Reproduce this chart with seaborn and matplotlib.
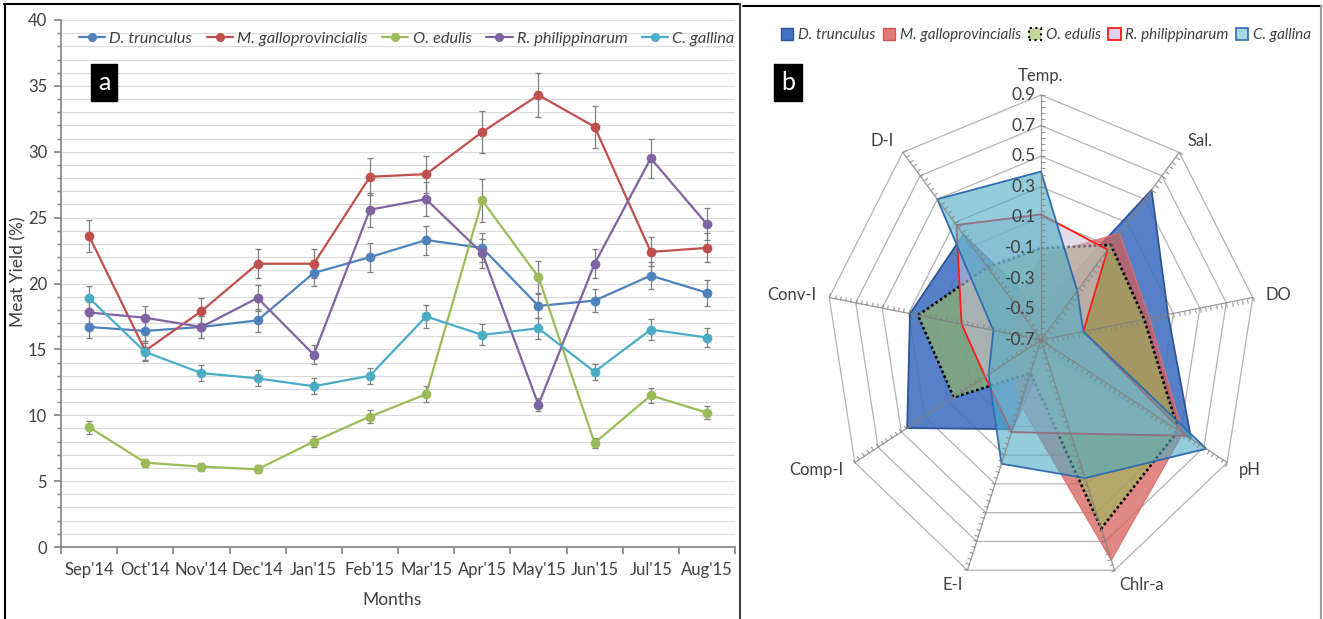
# Import libraries
import numpy as np
import pandas as pd
import seaborn as sns
import matplotlib.pyplot as plt
from matplotlib.lines import Line2D
from matplotlib.patches import Patch
from matplotlib.markers import MarkerStyle
from matplotlib.path import Path
from matplotlib.transforms import Affine2D, offset_copy
from matplotlib.colors import to_rgba

# ----------- Data -----------

months = ["Sep'14", "Oct'14", "Nov'14", "Dec'14", "Jan'15", "Feb'15",
          "Mar'15", "Apr'15", "May'15", "Jun'15", "Jul'15", "Aug'15"]
species = ["D. trunculus", "M. galloprovincialis", "O. edulis",
           "R. philippinarum", "C. gallina"]

# meat yield (%) per month
yield_d_trunculus = [16.7, 16.4, 16.7, 17.2, 20.8, 22.0, 23.3, 22.7, 18.3, 18.7, 20.6, 19.3]
yield_m_gallo = [23.6, 14.9, 17.9, 21.5, 21.5, 28.1, 28.3, 31.5, 34.3, 31.9, 22.4, 22.7]
yield_o_edulis = [9.1, 6.4, 6.1, 5.9, 8.0, 9.9, 11.6, 26.3, 20.5, 7.9, 11.5, 10.2]
yield_r_phil = [17.8, 17.4, 16.7, 18.9, 14.6, 25.6, 26.4, 22.3, 10.8, 21.5, 29.5, 24.5]
yield_c_gallina = [18.9, 14.8, 13.2, 12.8, 12.2, 13.0, 17.5, 16.1, 16.6, 13.3, 16.5, 15.9]

# error bars (+/-)
err_d_trunculus = [0.8, 0.8, 0.8, 0.9, 1.0, 1.1, 1.1, 1.1, 0.9, 0.9, 1.0, 1.0]
err_m_gallo = [1.2, 0.7, 1.0, 1.1, 1.1, 1.4, 1.4, 1.6, 1.7, 1.6, 1.1, 1.1]
err_o_edulis = [0.5, 0.3, 0.3, 0.3, 0.4, 0.5, 0.6, 1.6, 1.2, 0.4, 0.6, 0.5]
err_r_phil = [0.9, 0.9, 0.8, 1.0, 0.7, 1.3, 1.3, 1.1, 0.5, 1.1, 1.5, 1.2]
err_c_gallina = [0.9, 0.7, 0.6, 0.6, 0.6, 0.6, 0.9, 0.8, 0.8, 0.6, 0.8, 0.7]

# radar (correlation) values
radar_axes = ["Temp.", "Sal.", "DO", "pH", "Chlr-a", "E-I", "Comp-I", "Conv-I", "D-I"]
radar_d_trunculus = [-0.5, 0.58, 0.26, 0.59, -0.6, -0.08, 0.45, 0.29, 0.2]
radar_m_gallo = [-0.15, 0.21, 0.12, 0.52, 0.83, -0.25, -0.45, -0.45, -0.4]
radar_o_edulis = [-0.1, 0.11, 0.08, 0.48, 0.61, -0.47, 0.05, 0.23, -0.08]
radar_r_phil = [0.12, 0.07, -0.38, 0.55, -0.05, -0.06, -0.22, -0.1, 0.28]
radar_c_gallina = [0.4, -0.28, -0.38, 0.72, 0.26, 0.16, -0.25, -0.34, 0.5]
radar_ticks = [0.9, 0.7, 0.5, 0.3, 0.1, -0.1, -0.3, -0.5, -0.7]

yields = [yield_d_trunculus, yield_m_gallo, yield_o_edulis, yield_r_phil, yield_c_gallina]
errors = [err_d_trunculus, err_m_gallo, err_o_edulis, err_r_phil, err_c_gallina]
radars = [radar_d_trunculus, radar_m_gallo, radar_o_edulis, radar_r_phil, radar_c_gallina]

# ----------- Figure -----------

sns.set_theme(style="white")
plt.rcParams['font.family'] = ['Lato', 'DejaVu Sans']

W, H = 1323, 619
fig = plt.figure(figsize=(W / 100, H / 100), dpi=100)


def fx(x):
    return x / W


def fy(y):
    return 1 - y / H


line_colors = ["#4F81BD", "#C0504D", "#9BBB59", "#8064A2", "#4BACC6"]
text_color = "#404040"

# ----------- Panel a: meat yield -----------

ax1 = fig.add_axes([fx(61), fy(547), 674 / W, 527 / H])

df = pd.DataFrame({
    "pos": list(range(len(months))) * len(species),
    "species": np.repeat(species, len(months)),
    "value": np.concatenate(yields),
    "err": np.concatenate(errors),
})

for name in species:
    sub = df[df["species"] == name]
    ax1.errorbar(sub["pos"], sub["value"], yerr=sub["err"], fmt="none",
                 ecolor="#7F7F7F", elinewidth=0.9, capsize=2.5, capthick=0.9, zorder=2)

sns.lineplot(data=df, x="pos", y="value", hue="species", hue_order=species,
             palette=line_colors, marker="o", markersize=7, markeredgewidth=0,
             linewidth=1.6, errorbar=None, legend=False, ax=ax1, zorder=3)

ax1.set_xlim(-0.5, len(months) - 0.5)
ax1.set_ylim(0, 40)
ax1.set_yticks(range(0, 41, 5))
ax1.set_yticks(range(0, 41), minor=True)
ax1.yaxis.grid(True, which="both", color="#D9D9D9", lw=0.8)
ax1.set_axisbelow(True)
ax1.set_xticks(np.arange(-0.5, len(months), 1))
ax1.set_xticklabels([])
ax1.set_xticks(range(len(months)), minor=True)
ax1.set_xticklabels(months, minor=True)
ax1.tick_params(axis="x", which="major", bottom=True, length=5, color="#868686")
ax1.tick_params(axis="x", which="minor", bottom=True, length=0, labelsize=12,
                pad=11, labelcolor=text_color)
ax1.tick_params(axis="y", which="major", left=True, length=5, color="#868686",
                labelsize=12, pad=5, labelcolor=text_color)
ax1.tick_params(axis="y", which="minor", left=True, length=3, color="#868686")
ax1.set_xlabel("")
ax1.set_ylabel("")
for s in ["top", "right"]:
    ax1.spines[s].set_visible(False)
for s in ["left", "bottom"]:
    ax1.spines[s].set_color("#868686")

fig.text(fx(392), fy(600), "Months", ha="center", va="center", fontsize=12.5, color=text_color)
fig.text(fx(18), fy(272), "Meat Yield (%)", rotation=90, ha="center", va="center",
         fontsize=12.5, color=text_color)

handles_a = [Line2D([], [], color=c, marker="o", lw=1.6, markersize=6.5, markeredgewidth=0)
             for c in line_colors]
ax1.legend(handles_a, species, loc="upper center", bbox_to_anchor=(0.513, 1.0), ncol=5,
           frameon=False, handlelength=1.6, columnspacing=0.9, handletextpad=0.25,
           borderaxespad=0.3, prop={"style": "italic", "size": 11.8}, labelcolor=text_color)

fig.text(fx(104), fy(82), "a", color="white", fontsize=18, ha="center", va="center",
         bbox=dict(boxstyle="square,pad=0.28", fc="black", ec="black"))

# ----------- Panel b: radar -----------

cx, cy, rx, ry = 1041, 340, 215, 245
ax2 = fig.add_axes([fx(cx - rx), fy(cy + ry), 2 * rx / W, 2 * ry / H], projection="polar")
ax2.set_aspect("auto")
ax2.set_theta_offset(np.pi / 2)
ax2.set_theta_direction(-1)
ax2.set_ylim(-0.7, 0.9)
ax2.grid(False)
ax2.set_xticks([])
ax2.set_yticks([])
ax2.spines["polar"].set_visible(False)
ax2.patch.set_alpha(0)

n = len(radar_axes)
theta = np.arange(n) * 2 * np.pi / n
theta_c = np.append(theta, theta[0])

# nonagon rings
for lev in radar_ticks[:-1]:
    ax2.plot(theta_c, [lev] * (n + 1), color="#B3B3B3", lw=0.9, clip_on=False, zorder=1)

fill_colors = [to_rgba("#3F6FC0", 0.88), to_rgba("#D55A55", 0.72), to_rgba("#9BBB59", 0.6),
               to_rgba("#CCC0DA", 0.55), to_rgba("#4BACC6", 0.6)]
edge_colors = ["#2F5597", "#E07070", "black", "#FF1A1A", "#2F6DB0"]
edge_widths = [1.3, 0.8, 1.9, 1.3, 1.3]
edge_styles = ["-", "-", (0, (1, 1)), "-", "-"]

for vals, fc, ec, lw, ls in zip(radars, fill_colors, edge_colors, edge_widths, edge_styles):
    ax2.fill(theta_c, np.append(vals, vals[0]), facecolor=fc, edgecolor=ec,
             linewidth=lw, linestyle=ls, zorder=3)

# spokes with minor ticks
tick_vals = np.arange(-0.7, 0.9001, 0.04)
for t in theta:
    ax2.plot([t, t], [-0.7, 0.9], color="#808080", lw=0.9, alpha=0.8, clip_on=False, zorder=5)
    ang = np.pi / 2 - t
    phi = np.degrees(np.arctan2(ry * np.sin(ang), rx * np.cos(ang)))
    mk = MarkerStyle(Path([(0, 0), (0, -1)]), transform=Affine2D().rotate_deg(phi))
    ax2.plot([t] * len(tick_vals), tick_vals, ls="none", marker=mk, markersize=6,
             markeredgecolor="#808080", markeredgewidth=0.8, alpha=0.8, clip_on=False, zorder=5)

lab_tr = offset_copy(ax2.transData, fig=fig, x=-5, y=0, units="dots")
for lev in radar_ticks:
    ax2.text(0, lev, f"{lev:.1f}", transform=lab_tr, ha="right", va="center",
             fontsize=12.5, color=text_color, zorder=7)

align = [("center", "bottom"), ("left", "center"), ("left", "center"), ("left", "center"),
         ("left", "center"), ("right", "center"), ("right", "center"), ("right", "center"),
         ("right", "center")]
for t, name, (ha, va) in zip(theta, radar_axes, align):
    r = 0.97 if va == "bottom" else 1.0
    ax2.text(t, r, name, ha=ha, va=va, fontsize=12, color=text_color)

handles_b = [Patch(facecolor="#4472C4", edgecolor="#2F5597"),
             Patch(facecolor="#E07B78", edgecolor="#D9534F"),
             Patch(facecolor="#C4D79B", edgecolor="black", linestyle=":", lw=1.5),
             Patch(facecolor="#DCD3EA", edgecolor="#FF1A1A", lw=1.3),
             Patch(facecolor="#A5D8E6", edgecolor="#2F6DB0", lw=1.2)]
fig.legend(handles_b, species, loc="center", bbox_to_anchor=(fx(1046), fy(35)), ncol=5,
           frameon=False, handlelength=0.8, handleheight=0.8, handletextpad=0.3,
           columnspacing=0.5, prop={"style": "italic", "size": 11}, labelcolor=text_color)

fig.text(fx(788), fy(82), "b", color="white", fontsize=18, ha="center", va="center",
         bbox=dict(boxstyle="square,pad=0.28", fc="black", ec="black"))

# ----------- Panel frames -----------

for x0, y0, x1, y1, c in [(4, 4, 740, 4, "black"), (5, 4, 5, 619, "black"),
                          (740, 4, 740, 619, "#404040"), (743, 6, 1321, 6, "black"),
                          (1321, 6, 1321, 619, "#A0A0A0")]:
    fig.add_artist(Line2D([fx(x0), fx(x1)], [fy(y0), fy(y1)], color=c, lw=1.5,
                          transform=fig.transFigure))

fig.savefig("out.png", dpi=100)
